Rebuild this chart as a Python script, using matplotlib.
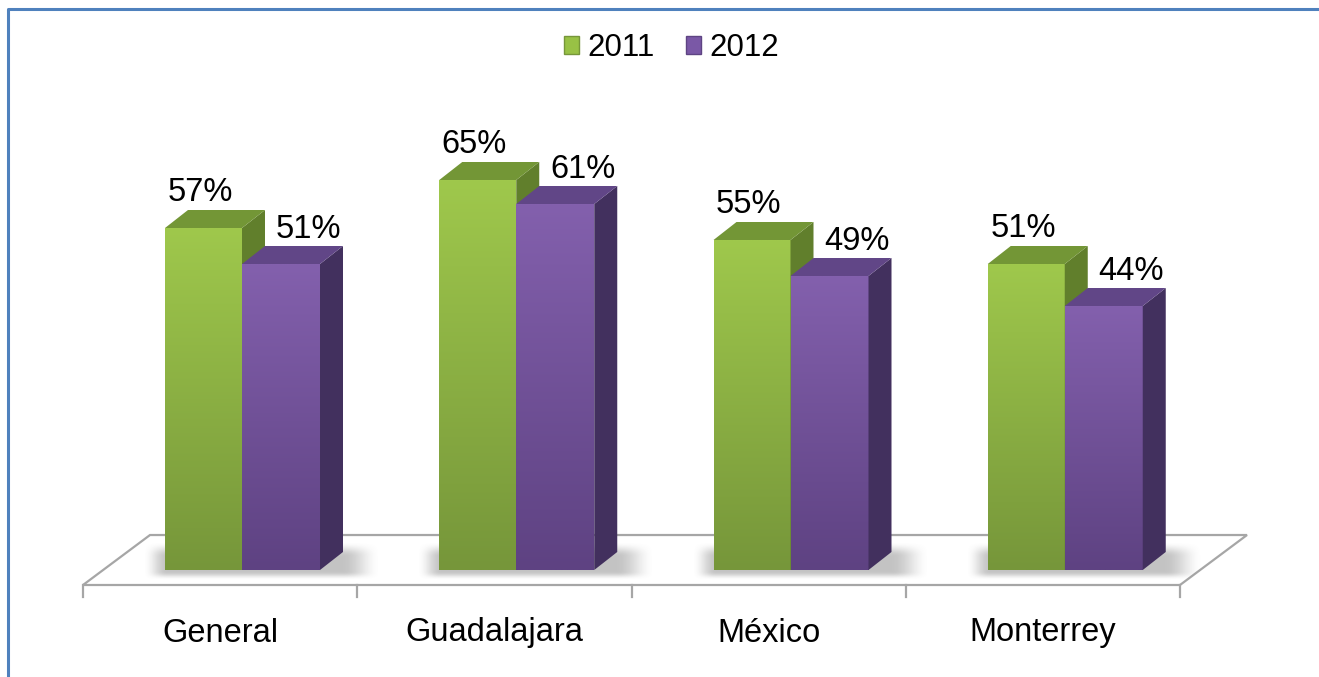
import numpy as np
import matplotlib
matplotlib.use("Agg")
import matplotlib.pyplot as plt
from matplotlib.patches import Polygon, Patch
from matplotlib.colors import LinearSegmentedColormap

categories = ["General", "Guadalajara", "México", "Monterrey"]
series_names = ["2011", "2012"]
values_2011 = [57, 65, 55, 51]
values_2012 = [51, 61, 49, 44]
labels_2011 = ["57%", "65%", "55%", "51%"]
labels_2012 = ["51%", "61%", "49%", "44%"]

W, H = 1319, 677
fig = plt.figure(figsize=(W / 100, H / 100), dpi=100)
ax = fig.add_axes([0, 0, 1, 1])
ax.set_axis_off()

# pixel mapping: x pixel = 83 + 274.25*x ; y pixel = 570 - 6*v
PX = 274.25
PY = 6.0
ax.set_xlim(-83 / PX, (W - 83) / PX)
ax.set_ylim((570 - H) / PY, 570 / PY)

FONT = "Liberation Sans"

# frame (blue border)
ax.plot([(8 - 83) / PX, (8 - 83) / PX, (W + 5 - 83) / PX],
        [(570 - H - 5) / PY, (570 - 9) / PY, (570 - 9) / PY],
        color="#4f81bd", lw=2.2, solid_capstyle="butt", zorder=1)

# floor
f_dx = 67 / PX
f_front = -2.5
f_back = 5.83
floor_pts = [(0, f_front), (4, f_front), (4 + f_dx, f_back), (f_dx, f_back)]
floor = Polygon(floor_pts, closed=True, facecolor="white", edgecolor="#a6a6a6", lw=1.6, zorder=2)
ax.add_patch(floor)
for i in range(5):
    ax.plot([i, i], [f_front, f_front - 2.0], color="#a6a6a6", lw=1.6, zorder=2)

# bar geometry
g_off, g_w = (165 - 83) / PX, 77 / PX
p_off, p_w = (242 - 83) / PX, 78 / PX
ddx, ddy = 23 / PX, 3.0


def smoothstep(t):
    t = np.clip(t, 0, 1)
    return t * t * (3 - 2 * t)


def shadow(x0, x1, z):
    ex0, ex1 = x0 - 35 / PX, x1 + 75 / PX
    ey0, ey1 = -1.6, 5.5
    xs = np.linspace(ex0, ex1, 300)
    ys = np.linspace(ey0, ey1, 120)
    X, Y = np.meshgrid(xs, ys)
    ax_ = smoothstep((X - (x0 - 22 / PX)) / (24 / PX)) * smoothstep(((x1 + 60 / PX) - X) / (38 / PX))
    ay_ = smoothstep((Y - ey0) / 1.4) * smoothstep((4.7 - Y) / 2.4)
    A = 0.42 * ax_ * ay_
    rgba = np.zeros(X.shape + (4,))
    rgba[..., :3] = 0.45
    rgba[..., 3] = A
    im = ax.imshow(rgba, extent=[ex0, ex1, ey0, ey1], origin="lower", aspect="auto",
                   zorder=z, interpolation="bilinear")
    clip = Polygon(floor_pts, closed=True, transform=ax.transData)
    im.set_clip_path(clip)


def gradient_face(x0, x1, top, c_top, c_bot, z):
    cmap = LinearSegmentedColormap.from_list("g", [c_bot, c_top])
    grad = np.linspace(0, 1, 256).reshape(-1, 1)
    ax.imshow(grad, extent=[x0, x1, 0, top], origin="lower", cmap=cmap,
              aspect="auto", zorder=z, interpolation="bilinear")


def bar3d(x0, w, v, front_top, front_bot, side, topc, z):
    x1 = x0 + w
    gradient_face(x0, x1, v, front_top, front_bot, z)
    ax.add_patch(Polygon([(x1, 0), (x1 + ddx, ddy), (x1 + ddx, v + ddy), (x1, v)],
                         closed=True, facecolor=side, edgecolor="none", zorder=z))
    ax.add_patch(Polygon([(x0, v), (x1, v), (x1 + ddx, v + ddy), (x0 + ddx, v + ddy)],
                         closed=True, facecolor=topc, edgecolor="none", zorder=z))


for i in range(len(categories)):
    shadow(i + g_off, i + p_off + p_w, 3)

for i in range(len(categories)):
    bar3d(i + g_off, g_w, values_2011[i], "#9fc84c", "#76963a", "#617f2c", "#739636", 4 + i)
    bar3d(i + p_off, p_w, values_2012[i], "#8360ad", "#5e4282", "#42305e", "#614687", 4 + i + 0.5)
    ax.text(i + g_off + g_w / 2 - 0.012, values_2011[i] + 3.4, labels_2011[i],
            ha="center", va="bottom", fontsize=23.5, family=FONT, color="black", zorder=10)
    ax.text(i + p_off + p_w / 2 + 0.1, values_2012[i] + 3.2, labels_2012[i],
            ha="center", va="bottom", fontsize=23.5, family=FONT, color="black", zorder=10)
    ax.text(i + 0.5, -10.5, categories[i], ha="center", va="center",
            fontsize=23.5, family=FONT, color="black", zorder=10)

handles = [Patch(facecolor="#98c145", edgecolor="#76963a", label=series_names[0]),
           Patch(facecolor="#7a58a6", edgecolor="#5e4483", label=series_names[1])]
leg = fig.legend(handles=handles, loc="center", bbox_to_anchor=(0.509, 0.929), ncol=2,
                 frameon=False, prop={"family": FONT, "size": 22.5},
                 handlelength=0.5, handleheight=0.5, handletextpad=0.25, columnspacing=1.0)

fig.savefig("out.png", dpi=100)
